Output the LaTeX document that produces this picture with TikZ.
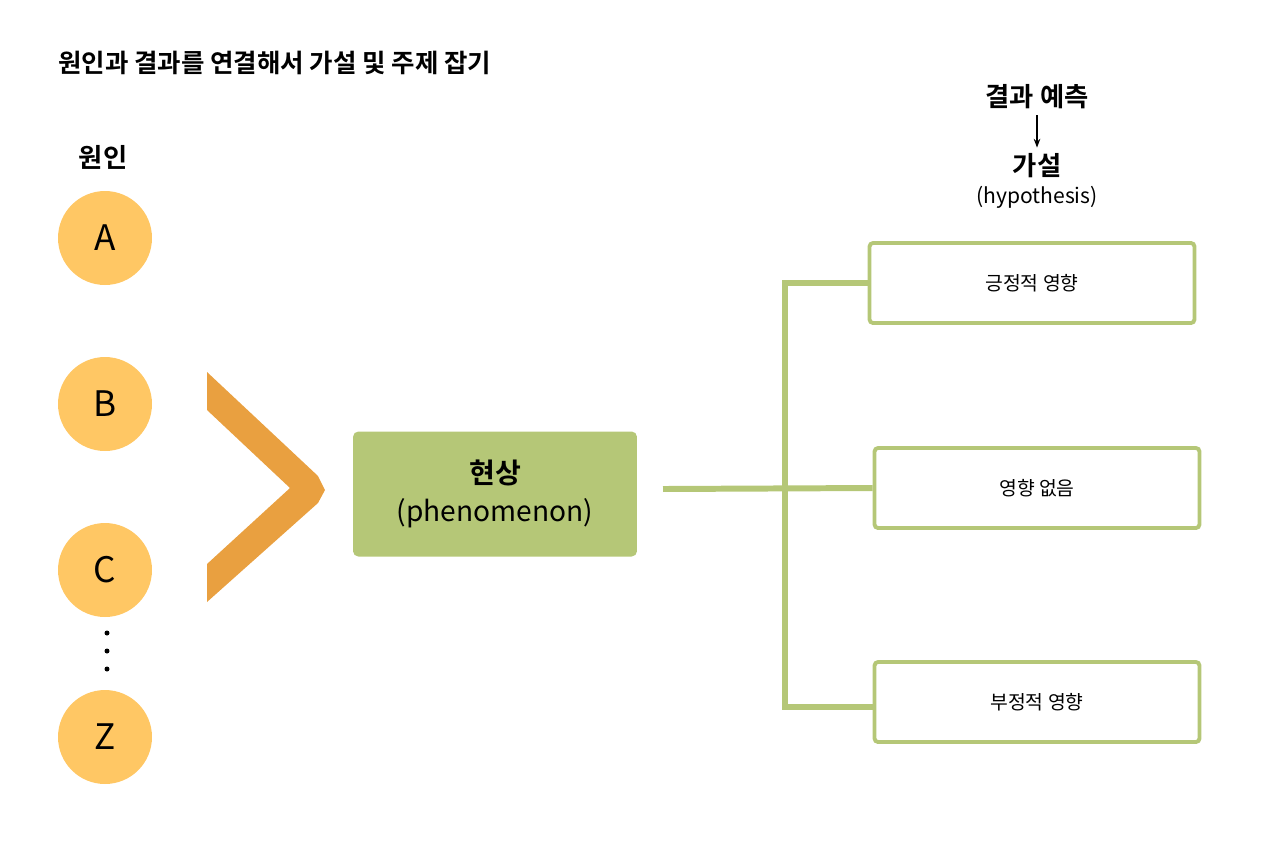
\documentclass[tikz,border=0pt]{standalone}
\usepackage{fontspec}
\usetikzlibrary{arrows.meta}
\setmainfont{Noto Sans CJK KR}
\newfontfamily\kb{Noto Sans CJK KR Bold}
\begin{document}
\begin{tikzpicture}[x=0.02cm,y=-0.02cm,
  circ/.style={circle,fill=cyel,minimum size=1.88cm,inner sep=0,font=\fontsize{20}{24}\selectfont},
  hbox/.style={draw=cgrn,line width=2.2pt,rounded corners=2pt,fill=white,minimum width=6.5cm,minimum height=1.6cm,font=\fontsize{11}{13}\selectfont},
  gline/.style={draw=cgrn,line width=3.4pt},
  lbl/.style={font=\fontsize{15}{18}\selectfont}]
\definecolor{cyel}{RGB}{255,199,100}
\definecolor{cgrn}{RGB}{181,199,119}
\definecolor{corg}{RGB}{233,160,64}
\useasboundingbox (0,0) rectangle (1280,853);
\node[anchor=west,font=\kb\fontsize{14.5}{17}\selectfont] (title) at (52,63) {원인과 결과를 연결해서 가설 및 주제 잡기};
\node[font=\kb\fontsize{15}{18}\selectfont] (cause) at (103,157) {원인};
\node[circ] (A) at (105,238) {A};
\node[circ] (B) at (105,404) {B};
\node[circ] (C) at (105,570) {C};
\node[circ] (Z) at (105,737) {Z};
\foreach \yy in {633,651,669} \fill (107,\yy) circle (2.5);
\fill[corg] (207,372) -- (318,476) -- (325,490) -- (318,503) -- (207,602) -- (207,564) -- (290,488) -- (207,410) -- cycle;
\node[fill=cgrn,rounded corners=3pt,minimum width=5.68cm,minimum height=2.5cm,align=center,font=\fontsize{16}{22}\selectfont] (ph) at (495,494) {{\kb 현상}\\(phenomenon)};
\node[hbox] (h1) at (1032,283) {긍정적 영향};
\node[hbox] (h2) at (1037,488) {영향 없음};
\node[hbox] (h3) at (1037,702) {부정적 영향};
\coordinate (s) at (663,489);
\coordinate (v1) at (785,283);
\coordinate (v3) at (785,707);
\draw[gline] (s) -- (h2.west);
\draw[gline] (h1.west) -- (v1) -- (v3) -- (h3.west |- v3);
\node[font=\kb\fontsize{15}{18}\selectfont] (res) at (1037,97) {결과 예측};
\node[font=\kb\fontsize{15}{18}\selectfont] (hyp) at (1037,166) {가설};
\node[font=\fontsize{12}{14}\selectfont] (hypen) at (1037,197) {(hypothesis)};
\draw[-{Stealth[length=5pt]},line width=0.8pt] (res.south) -- (hyp.north);
\end{tikzpicture}
\end{document}
